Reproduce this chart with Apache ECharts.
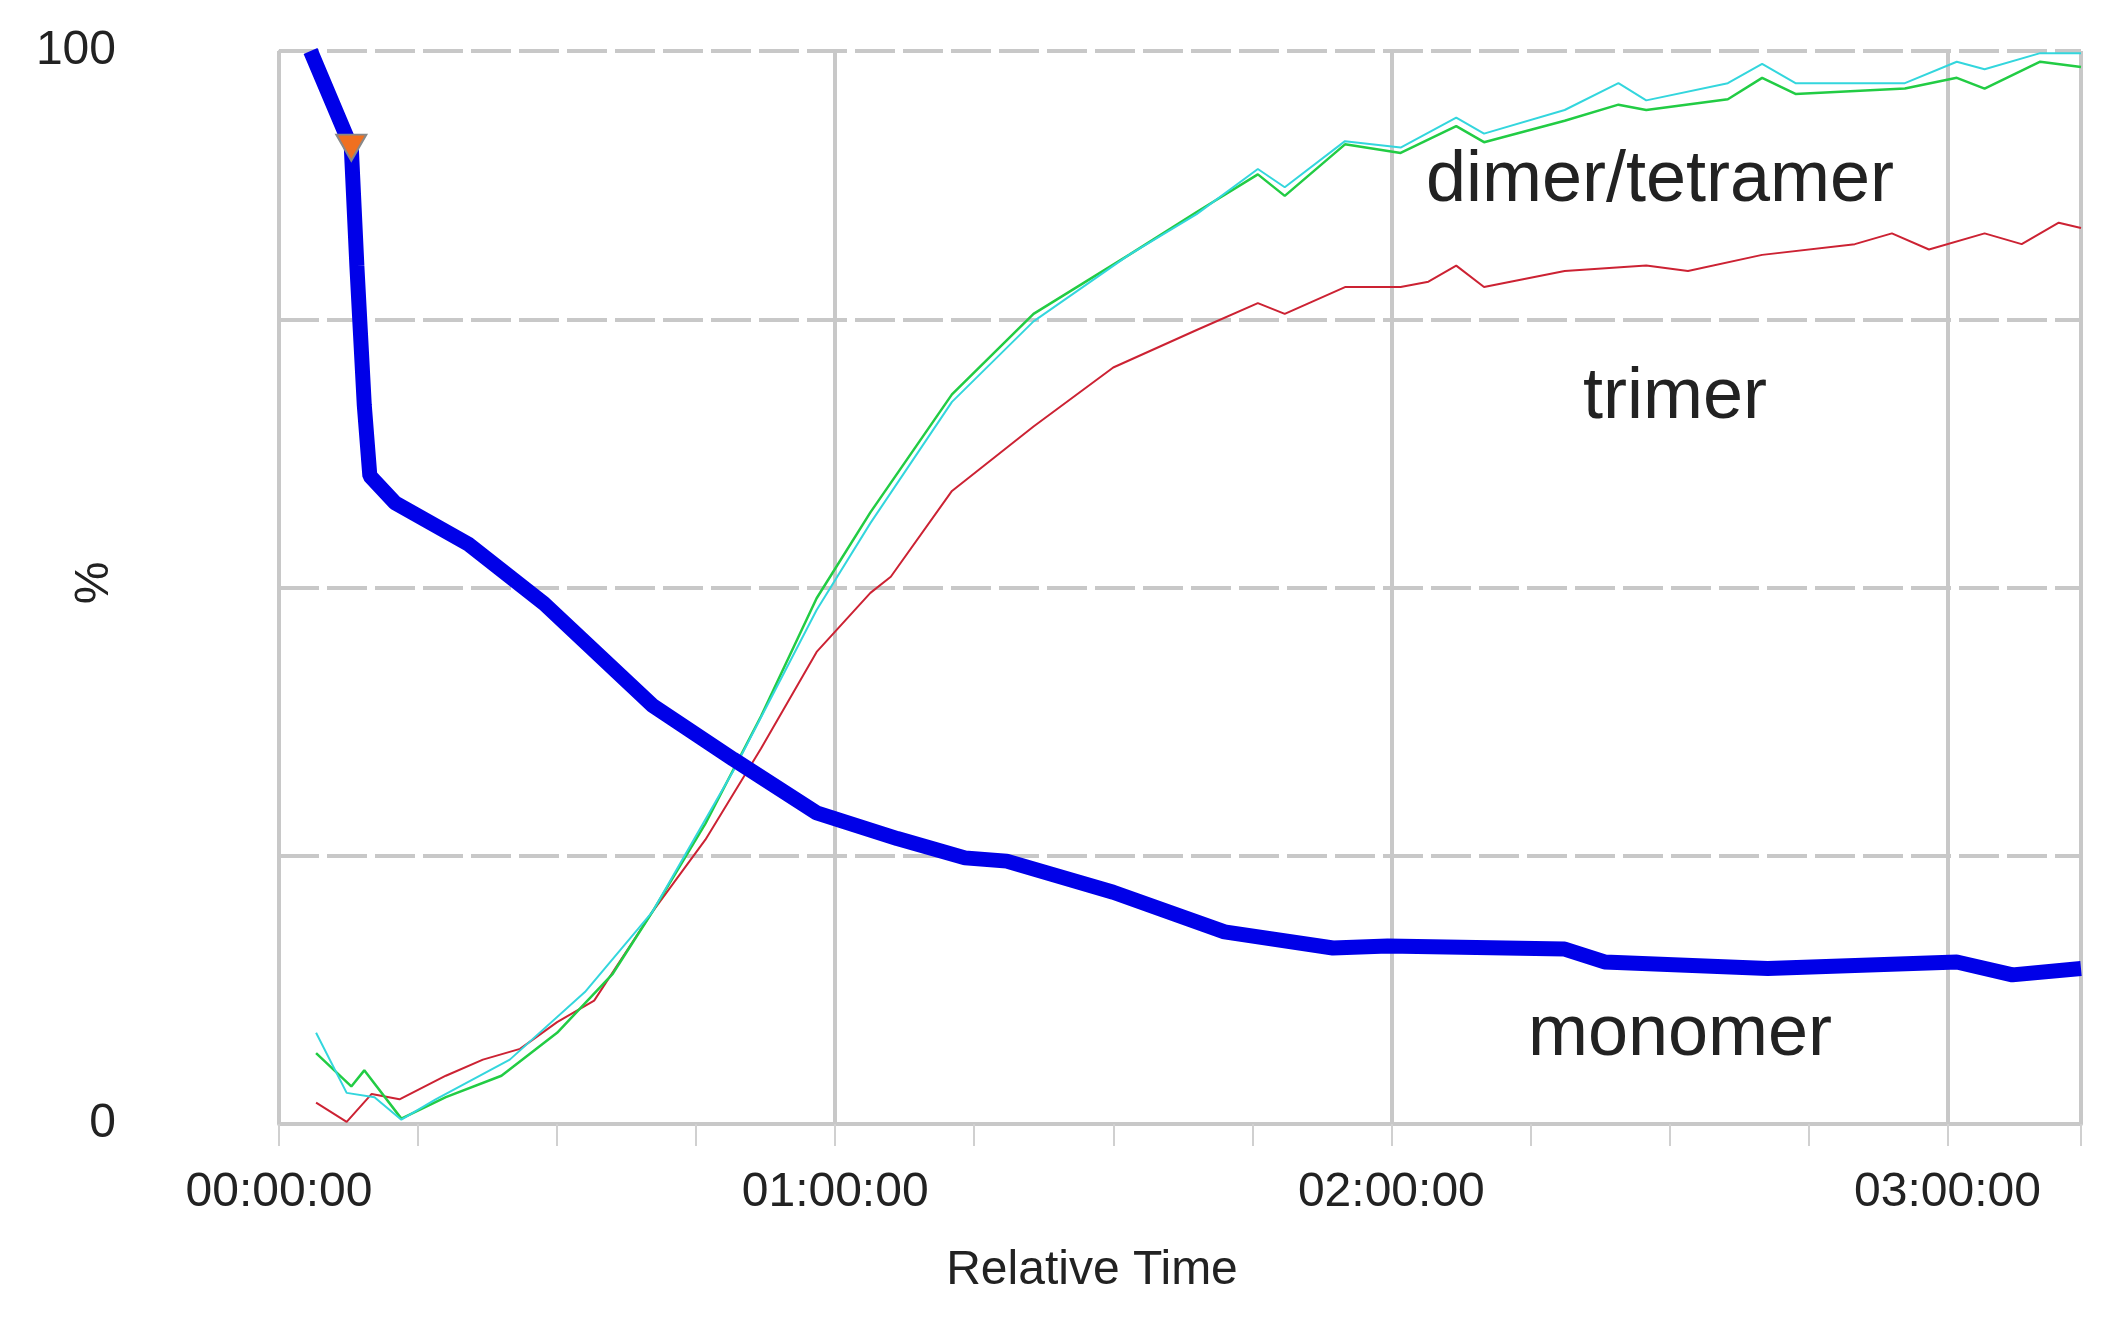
<!DOCTYPE html>
<html><head><meta charset="utf-8">
<script src="https://cdn.jsdelivr.net/npm/echarts@6/dist/echarts.min.js"></script>
<style>html,body{margin:0;background:#fff}#c{width:2108px;height:1328px}</style>
</head><body><div id="c"></div>
<script>
const xTickLabels = {0:'00:00:00',60:'01:00:00',120:'02:00:00',180:'03:00:00'};
const monomer = [[3.4,100],[7.8,91],[8.4,80],[9.2,67],[9.8,60.4],[12.5,57.9],[20.5,54],[28.6,48.5],[40.3,39],[49,34],[58,29],[66.7,26.6],[74,24.8],[78.5,24.5],[90,21.6],[102,17.9],[113.7,16.4],[119.6,16.6],[138.7,16.3],[143,15.1],[160.6,14.5],[181,15.1],[187,13.9],[194.4,14.5]];
const dimer = [[4,8.5],[7.3,2.9],[10.3,2.5],[13.2,0.4],[16.9,2.3],[24.9,6],[33,12.3],[40.3,19.8],[49,32.9],[58,47.9],[63.8,56],[72.6,67.3],[81.4,74.8],[91.7,81],[99,84.8],[105.6,89],[108.5,87.3],[115,91.6],[121,91],[127,93.8],[130,92.3],[138.7,94.5],[144.5,97],[147.5,95.4],[156.3,97],[160,98.8],[163.6,97],[175.4,97],[181,99],[184,98.3],[190,99.8],[194.4,99.8]];
const tetramer = [[4,6.6],[7.8,3.5],[9.2,5],[13.2,0.5],[18,2.5],[24,4.5],[30,8.5],[36,14],[40.3,19.8],[46,28],[52,38],[58,49],[63.8,57],[72.6,68],[81.4,75.5],[91.7,81],[99,85],[105.6,88.5],[108.5,86.5],[115,91.3],[121,90.5],[127,93],[130,91.5],[138.7,93.5],[144.5,95],[147.5,94.5],[156.3,95.5],[160,97.5],[163.6,96],[175.4,96.5],[181,97.5],[184,96.5],[190,99],[194.4,98.5]];
const trimer = [[4,2],[7.3,0.2],[10,2.8],[13,2.3],[18,4.5],[22,6],[26,7],[30,9.5],[34,11.5],[40.3,19.8],[46,26.5],[52,35],[58,44],[63.8,49.5],[66,51],[72.6,59],[81.4,65],[90,70.5],[99,74],[105.6,76.5],[108.5,75.5],[115,78],[121,78],[124,78.5],[127,80],[130,78],[138.7,79.5],[147.5,80],[152,79.5],[160,81],[170,82],[174,83],[178,81.5],[184,83],[188,82],[192,84],[194.4,83.5]];
const markerPoint = [7.8, 91];
const seriesLabels = [['dimer/tetramer',1660,181],['trimer',1675,398],['monomer',1680,1035]];

const chart = echarts.init(document.getElementById('c'));
const font = 'Liberation Sans, Arial, sans-serif';
const txt = (t,x,y,size,rot)=>({type:'text',x:x,y:y,rotation:rot||0,
  style:{text:t,fontFamily:font,fontSize:size,fill:'#222',align:'center',verticalAlign:'middle'}});
chart.setOption({
  animation:false,
  grid:{left:279,right:27,top:51,bottom:204,containLabel:false,outerBoundsMode:'none'},
  xAxis:{type:'value',min:0,max:194.4,interval:60,
    axisLine:{lineStyle:{color:'#c8c8c8',width:4}},
    axisTick:{length:22,lineStyle:{color:'#d0d0d0',width:2}},
    minorTick:{show:true,splitNumber:4,length:22,lineStyle:{color:'#d0d0d0',width:2}},
    axisLabel:{margin:45,fontFamily:font,fontSize:48,color:'#222',
      formatter:v=>xTickLabels[Math.round(v)]||'',showMaxLabel:false},
    splitLine:{show:true,lineStyle:{color:'#c8c8c8',width:4}}
  },
  yAxis:{type:'value',min:0,max:100,interval:25,
    axisLine:{show:true,lineStyle:{color:'#c8c8c8',width:3}},
    axisTick:{show:false},
    axisLabel:{margin:163,align:'right',fontFamily:font,fontSize:48,color:'#222',
      formatter:v=>(v===0||v===100)?String(v):''},
    splitLine:{lineStyle:{color:'#c8c8c8',width:4,type:[40,8]}}
  },
  series:[
    {type:'line',data:trimer,symbol:'none',lineStyle:{color:'#cc2233',width:2}},
    {type:'line',data:tetramer,symbol:'none',lineStyle:{color:'#22cc44',width:2.5}},
    {type:'line',data:dimer,symbol:'none',lineStyle:{color:'#33d6dd',width:2}},
    {type:'line',data:monomer,symbol:'none',lineStyle:{color:'#0000e8',width:15},
      markPoint:{symbol:'triangle',symbolRotate:180,symbolSize:[30,26],
        itemStyle:{color:'#f07020',borderColor:'#888',borderWidth:2},
        label:{show:false},data:[{coord:markerPoint}]}}
  ],
  graphic:seriesLabels.map(([t,x,y])=>txt(t,x,y,72))
    .concat([txt('Relative Time',1092,1271,48), txt('%',95,583,48,Math.PI/2)])
});
</script></body></html>
